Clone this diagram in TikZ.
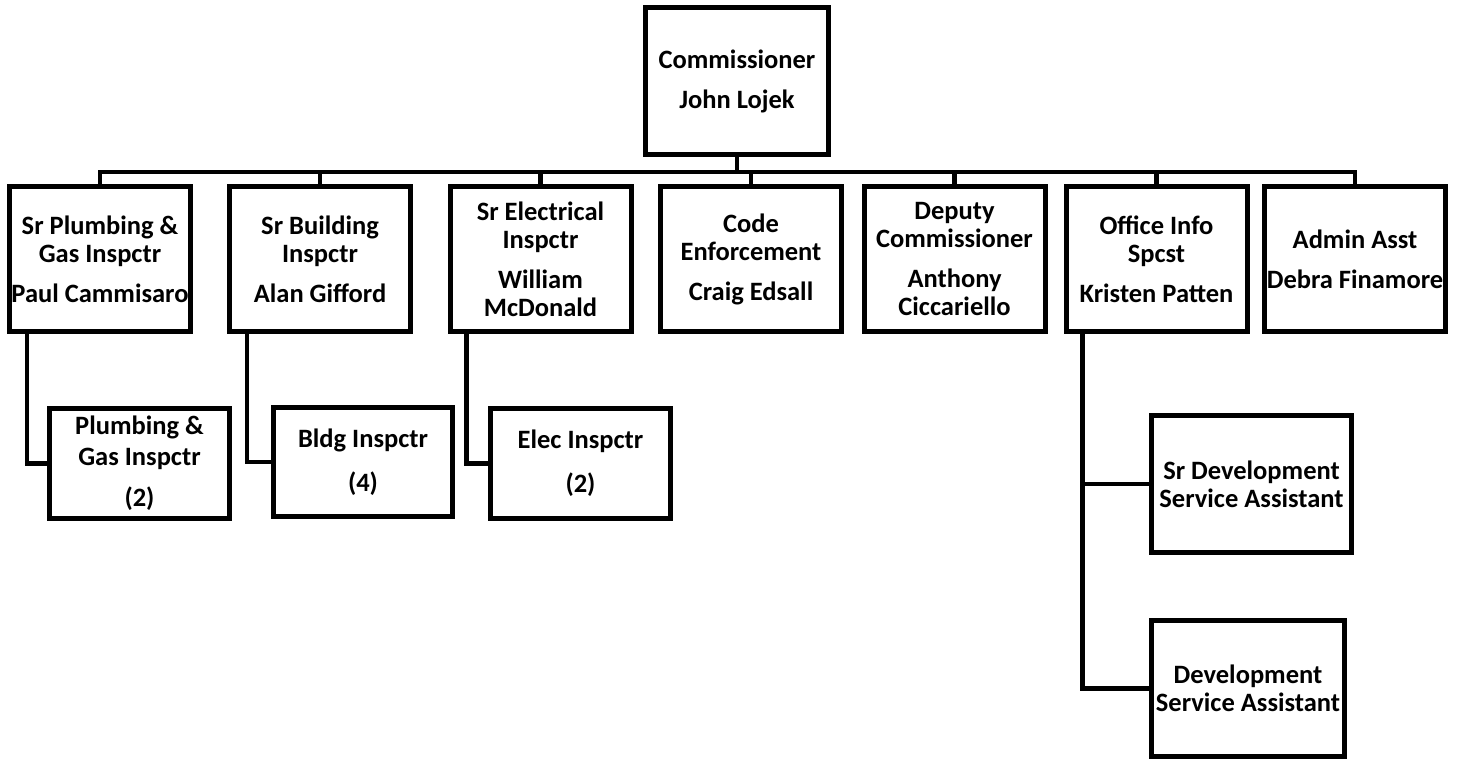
\documentclass[tikz,border=0pt]{standalone}
\usepackage{fontspec}
\setmainfont{Carlito}
\begin{document}
\begin{tikzpicture}[x=1pt,y=-1pt,
  box/.style={draw=black, line width=5pt, fill=white, inner sep=0pt, align=center,
    font=\fontsize{26.5}{28}\selectfont\bfseries, minimum width=181pt, minimum height=145pt},
  subbox/.style={box, minimum width=180pt, minimum height=110pt},
  devbox/.style={box, minimum width=200pt, minimum height=137pt},
  link/.style={line width=4.5pt, line cap=rect}
]
\useasboundingbox (0,0) rectangle (1458,761);
% top
\node[box, minimum width=183pt, minimum height=147pt] (com) at (737,81) {Commissioner\\[12pt]John Lojek};
% second row
\node[box] (b1) at (100,259) {Sr Plumbing \&\\Gas Inspctr\\[12pt]Paul Cammisaro};
\node[box] (b2) at (320,259) {Sr Building\\Inspctr\\[12pt]Alan Gifford};
\node[box] (b3) at (540.5,259) {Sr Electrical\\Inspctr\\[12pt]William\\McDonald};
\node[box] (b4) at (751,259) {Code\\Enforcement\\[12pt]Craig Edsall};
\node[box] (b5) at (954.5,259) {Deputy\\Commissioner\\[12pt]Anthony\\Ciccariello};
\node[box] (b6) at (1156.5,259) {Office Info\\Spcst\\[12pt]Kristen Patten};
\node[box] (b7) at (1355,259) {Admin Asst\\[12pt]Debra Finamore};
% third row
\node[subbox] (s1) at (139.5,463.5) {Plumbing \&\\[3pt]Gas Inspctr\\[13pt](2)};
\node[subbox, minimum width=179pt, minimum height=109pt] (s2) at (363,462) {Bldg Inspctr\\[16pt](4)};
\node[subbox] (s3) at (580.5,463.5) {Elec Inspctr\\[16pt](2)};
\node[devbox] (d1) at (1251.5,484) {Sr Development\\Service Assistant};
\node[devbox, minimum width=193pt, minimum height=136pt] (d2) at (1248,688.5) {Development\\Service Assistant};
% bus
\coordinate (busL) at (100,172);
\coordinate (busR) at (1355,172);
\draw[link] (busL) -- (busR);
\draw[link] (com.south) -- (com.south |- busL);
\foreach \n in {b1,b2,b3,b4,b5,b6,b7}{
  \draw[link] (\n.north) -- (\n.north |- busL);
}
\draw[link, line cap=butt] ([xshift=20pt]b1.south west) |- (s1.west);
\draw[link, line cap=butt] ([xshift=20pt]b2.south west) |- (s2.west);
\draw[link, line cap=butt] ([xshift=19pt]b3.south west) |- (s3.west);
\coordinate (ov) at ([xshift=19pt]b6.south west);
\draw[link, line cap=butt] (ov) |- (d2.west);
\draw[link, line cap=butt] (d1.west) -- (d1.west -| ov);
\end{tikzpicture}
\end{document}
